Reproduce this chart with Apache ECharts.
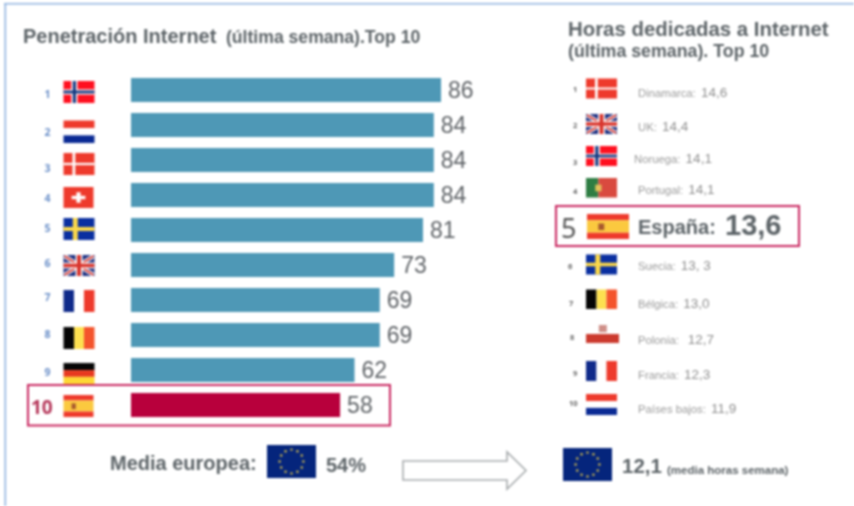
<!DOCTYPE html>
<html>
<head>
<meta charset="utf-8">
<title>Internet Top 10</title>
<script src="https://cdn.jsdelivr.net/npm/echarts@6/dist/echarts.min.js"></script>
<style>
html,body{margin:0;padding:0;background:#fff;overflow:hidden}
#main{width:854px;height:506px;filter:blur(0.8px)}
</style>
</head>
<body>
<div id="main"></div>
<script>
// left panel: penetracion
var paises = ['Noruega','Países bajos','Dinamarca','Suiza','Suecia','UK','Francia','Bélgica','Alemania','España'];
var penetracion = [86,84,84,84,81,73,69,69,62,58];
// right panel: horas
var paisesHoras = ['Dinamarca','UK','Noruega','Portugal','España','Suecia','Bélgica','Polonia','Francia','Países bajos'];
var horasTexto = ['14,6','14,4','14,1','14,1','13,6','13, 3','13,0',' 12,7','12,3','11,9'];
var mediaEuropea = '54%';
var mediaHoras = '12,1';

var GREY = '#5d6468';

// flag patterns, fractions of the flag box: [x,y,w,h,colour]
var RED = '#ee3a2c', BLUE = '#0a2a94', YEL = '#fbd84a';
var patterns = {
	'Noruega':[[0,0,1,1,'#ff1020'],[.25,0,.2,1,'#fff'],[0,.38,1,.24,'#fff'],[.3,0,.1,1,'#12367f'],[0,.44,1,.12,'#12367f']],
	'Países bajos':[[0,0,1,.34,RED],[0,.34,1,.32,'#fff'],[0,.66,1,.34,BLUE]],
	'Dinamarca':[[0,0,1,1,RED],[.29,0,.09,1,'#fff'],[0,.45,1,.1,'#fff']],
	'Suiza':[[0,0,1,1,RED],[.43,.25,.14,.5,'#fff'],[.27,.42,.46,.16,'#fff']],
	'Suecia':[[0,0,1,1,'#0a2fa0'],[.3,0,.16,1,YEL],[0,.41,1,.18,YEL]],
	'UK':[[0,0,1,1,'#1c2f80']],
	'Francia':[[0,0,.34,1,'#0f2a8a'],[.34,0,.32,1,'#fff'],[.66,0,.34,1,RED]],
	'Bélgica':[[0,0,.34,1,'#050505'],[.34,0,.32,1,'#fde050'],[.66,0,.34,1,'#f4542c']],
	'Alemania':[[0,0,1,.34,'#060606'],[0,.34,1,.32,'#e8391f'],[0,.66,1,.34,'#fdd835']],
	'España':[[0,0,1,.25,RED],[0,.25,1,.5,'#fbc93f'],[0,.75,1,.25,RED],[.27,.38,.14,.26,'#a8582e']],
	'Portugal':[[0,0,.4,1,'#2e7d43'],[.4,0,.6,1,'#d94a3f'],[.3,.34,.2,.34,'#e3c25a']],
	'Polonia':[[0,.05,1,.45,'#fff'],[0,.5,1,.5,'#cc3a2e'],[.39,0,.24,.4,'#cf8f88']]
};

// flag boxes [x,y,w,h]
var flagsIzq = [[63.5,81,31,22],[63.5,120.5,31,22.5],[63.5,153,31,22],[63.5,187,30,21],[63.5,218,31,22],[63.5,255,31,21],[63.5,290,31,22],[63.5,327,31,22],[63.5,363,31,21],[63.5,395,30,22]];
var flagsDer = [[586,78.5,31,20],[586,114,31,20],[586,146,31,20],[586,178,31,19.5],[587,214,42,25],[586,254.5,31,20],[586,289.5,31,19.5],[586,325,33,18],[586,361,31,20],[586,394,31,21]];
// rank labels [x,y]
var rankIzq = [[47,95],[47,133],[47,169],[47,199],[47,229],[47,264],[47,298],[47,335],[47,373]];
var rankDer = [[575,89],[575,125],[575,162],[575,191],null,[570,266],[571,303],[572,337],[575,373],[571,403]];
// list rows [x,y]
var filasDer = [[638,92],[638,126],[634,158],[638,189],null,[638,265],[638,303],[638,339],[638,374],[638,408]];

var g = [];

function txt(x,y,s,size,color,bold,family){
	g.push({type:'text',x:x,y:y+1.5,z:20,style:{text:s,fill:color,
		font:(bold?'bold ':'')+size+'px '+(family||'"Liberation Sans", Arial, sans-serif'),
		textAlign:'left',textVerticalAlign:'middle'}});
}
function rect(x,y,w,h,color,z){
	g.push({type:'rect',z:z||10,shape:{x:x,y:y,width:w,height:h},style:{fill:color}});
}
function line(x1,y1,x2,y2,w,color){
	g.push({type:'line',z:11,shape:{x1:x1,y1:y1,x2:x2,y2:y2},style:{stroke:color,lineWidth:w}});
}
function flag(name,b){
	var x=b[0],y=b[1],w=b[2],h=b[3];
	patterns[name].forEach(function(p){
		rect(x+p[0]*w,y+p[1]*h,p[2]*w,p[3]*h,p[4]);
	});
	if(name=='UK'){
		line(x+1,y+1,x+w-1,y+h-1,4,'#fff');
		line(x+1,y+h-1,x+w-1,y+1,4,'#fff');
		line(x+1,y+1,x+w-1,y+h-1,1.6,'#d8342c');
		line(x+1,y+h-1,x+w-1,y+1,1.6,'#d8342c');
		line(x,y+h/2,x+w,y+h/2,6,'#fff');
		line(x+w/2,y,x+w/2,y+h,7,'#fff');
		line(x,y+h/2,x+w,y+h/2,3.5,'#d8342c');
		line(x+w/2,y,x+w/2,y+h,4,'#d8342c');
	}
}
function euFlag(x,y,w,h){
	rect(x,y,w,h,'#05257c');
	for(var i=0;i<12;i++){
		var a=i*Math.PI/6;
		g.push({type:'circle',z:11,shape:{cx:x+w/2+Math.sin(a)*h*.36,cy:y+h/2-Math.cos(a)*h*.36,r:1.2},style:{fill:'#d9c04a'}});
	}
}
function nombreAncho(s){
	var c=document.createElement('canvas').getContext('2d');
	c.font='11.3px "Liberation Sans", Arial, sans-serif';
	return c.measureText(s).width+2;
}

// frame
rect(4,3,850,1.6,'#8fb2df',1);
rect(4.5,3,1.6,503,'#8fb2df',1);

// titles
txt(23,36,'Penetración Internet',20,GREY,true);
txt(226,37,'(última semana).Top 10',17.6,GREY,true);
txt(568,29,'Horas dedicadas a Internet',20.4,GREY,true);
txt(568,51,'(última semana). Top 10',17.8,GREY,true);

// left ranks and flags
paises.forEach(function(p,i){
	flag(p,flagsIzq[i]);
	if(rankIzq[i]) txt(rankIzq[i][0]-2.5,rankIzq[i][1]-1,String(i+1),10.5,'#6a8fc8',true,'"Noto Sans", sans-serif');
});
txt(31,407,'10',19,'#b5375a',true,'"Noto Sans", sans-serif');

// right list
paisesHoras.forEach(function(p,i){
	flag(p,flagsDer[i]);
	if(!filasDer[i]) return;
	var f=filasDer[i], nombre=p+': ';
	txt(rankDer[i][0]-2,rankDer[i][1]-1,String(i+1),7.5,'#666',true,'"Noto Sans", sans-serif');
	txt(f[0],f[1],nombre,11.3,'#9a9a9a',false);
	txt(f[0]+nombreAncho(nombre),f[1]-0.5,horasTexto[i],13.5,'#8f8f8f',false);
});

// spain row on the right
txt(561,229,'5',27,'#555',false,'"Noto Sans", sans-serif');
txt(638,227,'España:',20,GREY,true);
txt(725,225,horasTexto[4],29,GREY,true);

// highlight boxes
g.push({type:'rect',z:15,shape:{x:28,y:385,width:362,height:40.5},style:{fill:'none',stroke:'#c9265f',lineWidth:2}});
g.push({type:'rect',z:15,shape:{x:556,y:206,width:243,height:40},style:{fill:'none',stroke:'#c9265f',lineWidth:2}});

// bottom
txt(110,463,'Media europea:',20,GREY,true);
euFlag(267,445,49,33);
txt(326,465,mediaEuropea,20,GREY,true);
g.push({type:'polygon',z:12,shape:{points:[[403,461],[507,461],[507,452],[526,470.5],[507,489],[507,480],[403,480]]},style:{fill:'#fff',stroke:'#a8acae',lineWidth:1.6}});
euFlag(563,448,49,33);
txt(622,466,mediaHoras,20.5,GREY,true);
txt(667,469,'(media horas semana)',11.5,GREY,true);

var chart = echarts.init(document.getElementById('main'),null,{renderer:'canvas'});
chart.setOption({
	animation:false,
	backgroundColor:'#fff',
	grid:{left:131,top:72.5,width:360.5,height:350},
	xAxis:{type:'value',min:0,max:100,show:false},
	yAxis:{type:'category',inverse:true,data:paises,show:false},
	series:[{
		type:'bar',
		barWidth:24,
		data:penetracion.map(function(v,i){
			return {value:v,itemStyle:{color:paises[i]=='España'?'#b8003c':'#4e98b6'}};
		}),
		label:{show:true,position:'right',distance:7,offset:[0,2],fontSize:23,color:'#606468',fontFamily:'"Liberation Sans", Arial, sans-serif'}
	}],
	graphic:g
});
</script>
</body>
</html>
